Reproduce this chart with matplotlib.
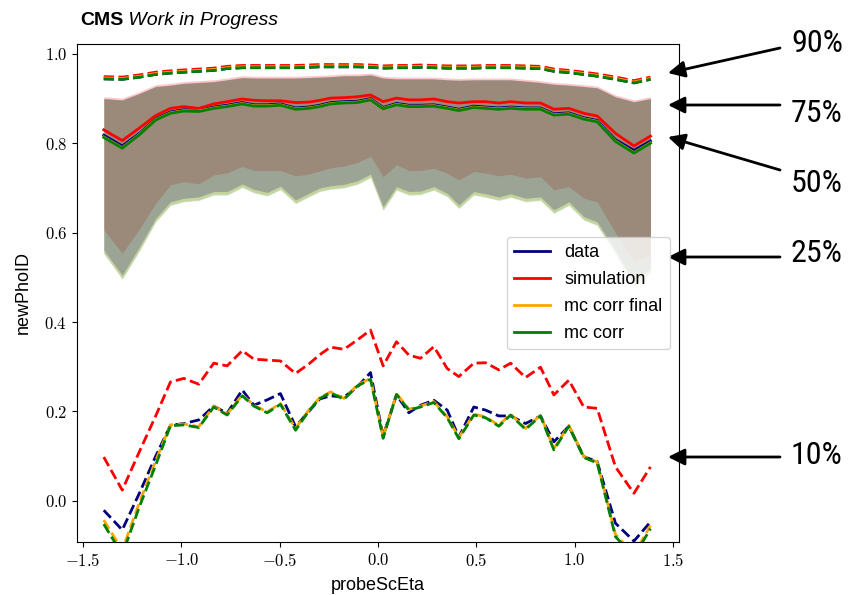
import matplotlib
matplotlib.use("Agg")
import matplotlib.pyplot as plt
from matplotlib.ticker import FuncFormatter

plt.rcParams['font.family'] = ['Liberation Sans', 'DejaVu Sans']
plt.rcParams['mathtext.fontset'] = 'cm'

# probeScEta bin positions
eta = [-1.394, -1.30, -1.21, -1.13, -1.055, -0.987, -0.911, -0.835, -0.767, -0.690,
       -0.631, -0.563, -0.496, -0.419, -0.352, -0.296, -0.241, -0.173, -0.105, -0.038,
       0.026, 0.094, 0.157, 0.216, 0.284, 0.352, 0.411, 0.487, 0.547, 0.614,
       0.674, 0.750, 0.826, 0.894, 0.970, 1.046, 1.114, 1.207, 1.301, 1.385]

# --- data ---
data_q10 = [-0.021, -0.065, 0.02, 0.10, 0.169, 0.173, 0.181, 0.212, 0.196, 0.248,
            0.214, 0.226, 0.24, 0.166, 0.20, 0.228, 0.235, 0.232, 0.255, 0.287,
            0.145, 0.237, 0.197, 0.214, 0.225, 0.203, 0.143, 0.21, 0.203, 0.19,
            0.19, 0.173, 0.19, 0.132, 0.167, 0.099, 0.088, -0.05, -0.09, -0.047]
data_q25 = [0.561, 0.505, 0.57, 0.632, 0.669, 0.677, 0.680, 0.692, 0.692, 0.709,
            0.697, 0.690, 0.704, 0.673, 0.688, 0.70, 0.705, 0.708, 0.716, 0.731,
            0.658, 0.703, 0.692, 0.693, 0.703, 0.688, 0.662, 0.692, 0.687, 0.680,
            0.687, 0.677, 0.68, 0.651, 0.669, 0.636, 0.624, 0.56, 0.49, 0.52]
data_q50 = [0.818, 0.794, 0.823, 0.855, 0.870, 0.875, 0.874, 0.881, 0.885, 0.891,
            0.886, 0.886, 0.888, 0.879, 0.881, 0.885, 0.891, 0.893, 0.894, 0.900,
            0.880, 0.889, 0.885, 0.885, 0.886, 0.881, 0.876, 0.883, 0.881, 0.879,
            0.881, 0.879, 0.879, 0.866, 0.868, 0.857, 0.851, 0.808, 0.784, 0.805]
data_q75 = [0.900, 0.897, 0.912, 0.927, 0.930, 0.934, 0.936, 0.938, 0.942, 0.947,
            0.946, 0.946, 0.946, 0.946, 0.947, 0.948, 0.949, 0.951, 0.951, 0.953,
            0.946, 0.944, 0.944, 0.944, 0.944, 0.942, 0.941, 0.942, 0.942, 0.942,
            0.942, 0.939, 0.936, 0.932, 0.930, 0.927, 0.924, 0.904, 0.893, 0.900]
data_q90 = [0.944, 0.943, 0.948, 0.954, 0.957, 0.959, 0.961, 0.963, 0.967, 0.969,
            0.969, 0.969, 0.969, 0.969, 0.970, 0.971, 0.971, 0.971, 0.971, 0.970,
            0.968, 0.969, 0.969, 0.970, 0.969, 0.968, 0.968, 0.968, 0.969, 0.969,
            0.969, 0.968, 0.967, 0.961, 0.958, 0.954, 0.950, 0.943, 0.935, 0.943]

# --- simulation ---
sim_q10 = [0.098, 0.024, 0.113, 0.19, 0.266, 0.274, 0.261, 0.308, 0.302, 0.336,
           0.317, 0.315, 0.313, 0.285, 0.306, 0.327, 0.344, 0.339, 0.36, 0.382,
           0.302, 0.356, 0.326, 0.319, 0.345, 0.296, 0.278, 0.308, 0.309, 0.293,
           0.308, 0.276, 0.299, 0.237, 0.270, 0.210, 0.207, 0.076, 0.017, 0.076]
sim_q25 = [0.606, 0.554, 0.61, 0.666, 0.707, 0.714, 0.709, 0.729, 0.734, 0.748,
           0.739, 0.739, 0.739, 0.727, 0.731, 0.738, 0.745, 0.749, 0.757, 0.771,
           0.725, 0.752, 0.739, 0.739, 0.744, 0.733, 0.718, 0.737, 0.733, 0.727,
           0.731, 0.722, 0.725, 0.696, 0.703, 0.677, 0.669, 0.60, 0.535, 0.55]
sim_q50 = [0.830, 0.806, 0.835, 0.862, 0.878, 0.882, 0.878, 0.888, 0.893, 0.899,
           0.896, 0.895, 0.895, 0.891, 0.892, 0.896, 0.901, 0.902, 0.904, 0.908,
           0.893, 0.901, 0.897, 0.897, 0.899, 0.893, 0.890, 0.893, 0.893, 0.890,
           0.893, 0.890, 0.890, 0.876, 0.878, 0.867, 0.861, 0.822, 0.794, 0.816]
sim_q75 = [0.904, 0.901, 0.916, 0.931, 0.934, 0.938, 0.940, 0.942, 0.946, 0.951,
           0.950, 0.950, 0.950, 0.950, 0.951, 0.952, 0.953, 0.955, 0.955, 0.957,
           0.950, 0.948, 0.948, 0.948, 0.948, 0.946, 0.945, 0.946, 0.946, 0.946,
           0.946, 0.943, 0.940, 0.936, 0.934, 0.931, 0.928, 0.908, 0.897, 0.904]
sim_q90 = [0.949, 0.948, 0.953, 0.959, 0.962, 0.964, 0.966, 0.968, 0.972, 0.974,
           0.974, 0.974, 0.974, 0.974, 0.975, 0.976, 0.976, 0.976, 0.976, 0.975,
           0.973, 0.974, 0.974, 0.975, 0.974, 0.973, 0.973, 0.973, 0.974, 0.974,
           0.974, 0.973, 0.972, 0.966, 0.963, 0.959, 0.955, 0.948, 0.940, 0.948]

# --- mc corr final ---
final_q10 = [-0.043, -0.11, 0.0, 0.09, 0.17, 0.172, 0.166, 0.212, 0.194, 0.237,
             0.214, 0.199, 0.218, 0.162, 0.203, 0.231, 0.244, 0.229, 0.259, 0.274,
             0.143, 0.240, 0.205, 0.212, 0.222, 0.188, 0.142, 0.194, 0.188, 0.169,
             0.194, 0.162, 0.192, 0.117, 0.169, 0.099, 0.087, -0.075, -0.12, -0.055]
final_q25 = [0.555, 0.498, 0.563, 0.626, 0.663, 0.671, 0.674, 0.686, 0.686, 0.703,
             0.691, 0.684, 0.698, 0.667, 0.682, 0.694, 0.699, 0.702, 0.710, 0.725,
             0.652, 0.697, 0.686, 0.687, 0.697, 0.682, 0.656, 0.686, 0.681, 0.674,
             0.681, 0.671, 0.674, 0.645, 0.663, 0.630, 0.618, 0.554, 0.484, 0.514]
final_q50 = [0.814, 0.790, 0.821, 0.853, 0.868, 0.873, 0.872, 0.879, 0.883, 0.889,
             0.884, 0.884, 0.886, 0.877, 0.879, 0.883, 0.889, 0.891, 0.892, 0.898,
             0.878, 0.887, 0.883, 0.883, 0.884, 0.879, 0.874, 0.881, 0.879, 0.877,
             0.879, 0.877, 0.877, 0.864, 0.866, 0.855, 0.849, 0.805, 0.779, 0.801]
final_q75 = [0.899, 0.896, 0.911, 0.926, 0.929, 0.933, 0.935, 0.937, 0.941, 0.946,
             0.945, 0.945, 0.945, 0.945, 0.946, 0.947, 0.948, 0.950, 0.950, 0.952,
             0.945, 0.943, 0.943, 0.943, 0.943, 0.941, 0.940, 0.941, 0.941, 0.941,
             0.941, 0.938, 0.935, 0.931, 0.929, 0.926, 0.923, 0.903, 0.892, 0.899]
final_q90 = [0.946, 0.945, 0.950, 0.956, 0.959, 0.961, 0.963, 0.965, 0.969, 0.971,
             0.971, 0.971, 0.971, 0.971, 0.972, 0.973, 0.973, 0.973, 0.973, 0.972,
             0.970, 0.971, 0.971, 0.972, 0.971, 0.970, 0.970, 0.970, 0.971, 0.971,
             0.971, 0.970, 0.969, 0.963, 0.960, 0.956, 0.952, 0.945, 0.937, 0.945]

# --- mc corr ---
corr_q10 = [-0.052, -0.12, -0.01, 0.08, 0.168, 0.170, 0.164, 0.210, 0.192, 0.235,
            0.212, 0.197, 0.216, 0.158, 0.201, 0.229, 0.242, 0.227, 0.257, 0.272,
            0.140, 0.238, 0.203, 0.210, 0.220, 0.186, 0.139, 0.192, 0.186, 0.167,
            0.192, 0.160, 0.190, 0.114, 0.167, 0.097, 0.085, -0.08, -0.125, -0.062]
corr_q25 = [0.553, 0.496, 0.561, 0.624, 0.661, 0.669, 0.672, 0.684, 0.684, 0.701,
            0.689, 0.682, 0.696, 0.665, 0.680, 0.692, 0.697, 0.700, 0.708, 0.723,
            0.650, 0.695, 0.684, 0.685, 0.695, 0.680, 0.654, 0.684, 0.679, 0.672,
            0.679, 0.669, 0.672, 0.643, 0.661, 0.628, 0.616, 0.552, 0.482, 0.512]
corr_q50 = [0.813, 0.789, 0.82, 0.852, 0.867, 0.872, 0.871, 0.878, 0.882, 0.888,
            0.883, 0.883, 0.885, 0.876, 0.878, 0.882, 0.888, 0.890, 0.891, 0.897,
            0.877, 0.886, 0.882, 0.882, 0.883, 0.878, 0.873, 0.880, 0.878, 0.876,
            0.878, 0.876, 0.876, 0.863, 0.865, 0.854, 0.848, 0.804, 0.778, 0.80]
corr_q75 = [0.900, 0.897, 0.912, 0.927, 0.930, 0.934, 0.936, 0.938, 0.942, 0.947,
            0.946, 0.946, 0.946, 0.946, 0.947, 0.948, 0.949, 0.951, 0.951, 0.953,
            0.946, 0.944, 0.944, 0.944, 0.944, 0.942, 0.941, 0.942, 0.942, 0.942,
            0.942, 0.939, 0.936, 0.932, 0.930, 0.927, 0.924, 0.904, 0.893, 0.900]
corr_q90 = [0.944, 0.943, 0.948, 0.954, 0.957, 0.959, 0.961, 0.963, 0.967, 0.969,
            0.969, 0.969, 0.969, 0.969, 0.970, 0.971, 0.971, 0.971, 0.971, 0.970,
            0.968, 0.969, 0.969, 0.970, 0.969, 0.968, 0.968, 0.968, 0.969, 0.969,
            0.969, 0.968, 0.967, 0.961, 0.958, 0.954, 0.950, 0.943, 0.935, 0.943]

series = [
    ("data", "navy", data_q10, data_q25, data_q50, data_q75, data_q90),
    ("simulation", "red", sim_q10, sim_q25, sim_q50, sim_q75, sim_q90),
    ("mc corr final", "orange", final_q10, final_q25, final_q50, final_q75, final_q90),
    ("mc corr", "green", corr_q10, corr_q25, corr_q50, corr_q75, corr_q90),
]

# quantile annotations (figure pixels, measured from the top)
quantile_labels = ["90%", "75%", "50%", "25%", "10%"]
label_y = [44, 113, 183, 253, 456]
arrow_tail = [(780, 48), (780, 105), (780, 170), (780, 257), (780, 457)]
arrow_tip = [(668, 73), (668, 105), (668, 137), (668, 257), (668, 457)]

W, H = 853, 595
fig = plt.figure(figsize=(W / 100, H / 100), dpi=100)
ax = fig.add_axes([77 / W, 53 / H, (679 - 77) / W, (542 - 44) / H])

# 25%-75% bands (data band laid on last)
for name, col, q10, q25, q50, q75, q90 in series[1:] + series[:1]:
    ax.fill_between(eta, q25, q75, color=col, alpha=0.22, linewidth=0)
# median solid, 10% / 90% dashed
for name, col, q10, q25, q50, q75, q90 in series:
    ax.plot(eta, q50, color=col, lw=2, label=name)
    ax.plot(eta, q10, color=col, lw=2, ls='--')
    ax.plot(eta, q90, color=col, lw=2, ls='--')

ax.set_xlim(-1.53, 1.53)
ax.set_ylim(-0.092, 1.022)
ax.set_xticks([-1.5, -1.0, -0.5, 0.0, 0.5, 1.0, 1.5])
ax.set_yticks([0.0, 0.2, 0.4, 0.6, 0.8, 1.0])
fmt = FuncFormatter(lambda v, p: f'${v:.1f}$')
ax.xaxis.set_major_formatter(fmt)
ax.yaxis.set_major_formatter(fmt)
ax.tick_params(labelsize=12)
ax.set_xlabel("probeScEta", fontsize=13, labelpad=6)
ax.set_ylabel("newPhoID", fontsize=13, labelpad=9)

ax.legend(loc='center right', fontsize=13, labelspacing=0.55)

t1 = ax.text(0.005, 1.038, "CMS", transform=ax.transAxes, fontsize=14,
             fontweight='bold', va='baseline')
ax.annotate(" Work in Progress", xy=(1, 0), xycoords=t1, fontsize=14,
            style='italic', va='bottom')

for lab, ly, tail, tip in zip(quantile_labels, label_y, arrow_tail, arrow_tip):
    fig.text(791 / W, 1 - ly / H, lab, fontsize=23, va='center', ha='left',
             family=['Roboto Condensed', 'Liberation Sans Narrow', 'DejaVu Sans'],
             fontstretch='condensed')
    ax.annotate('', xy=(tip[0], H - tip[1]), xytext=(tail[0], H - tail[1]),
                xycoords='figure pixels', textcoords='figure pixels',
                arrowprops=dict(arrowstyle='-|>', color='black', lw=2,
                                mutation_scale=25, shrinkA=0, shrinkB=0),
                annotation_clip=False)

fig.savefig("out.png", dpi=100)
